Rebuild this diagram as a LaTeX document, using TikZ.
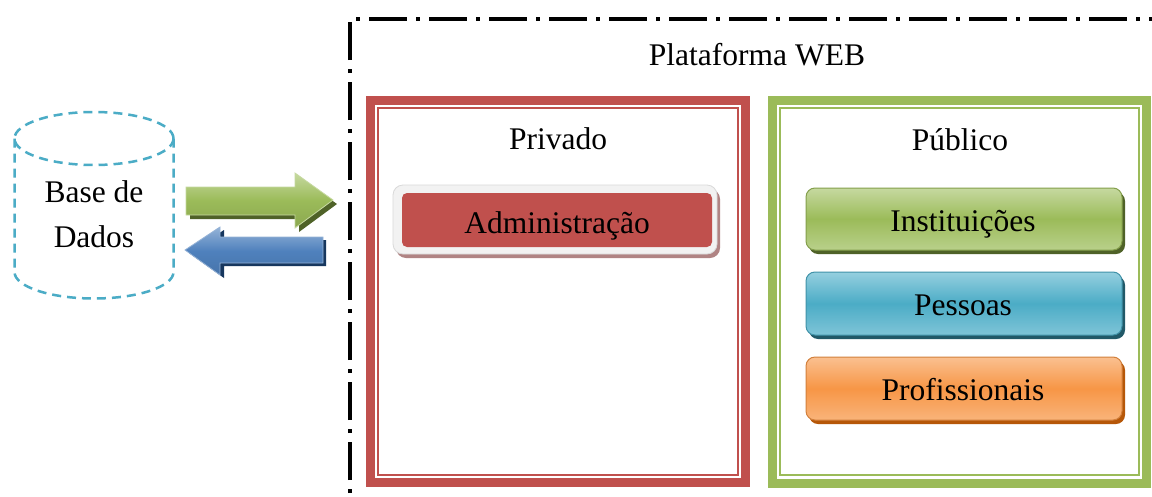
\documentclass[tikz,border=0pt]{standalone}
\usepackage{fontspec}
\setmainfont{Liberation Serif}
\usetikzlibrary{calc}
\definecolor{cred}{HTML}{C0504D}
\definecolor{cgreen}{HTML}{9BBB59}
\definecolor{cgreenl}{HTML}{C6D9A0}
\definecolor{cgreend}{HTML}{4F6228}
\definecolor{cblue}{HTML}{4BACC6}
\definecolor{cbluel}{HTML}{95CFDF}
\definecolor{cblued}{HTML}{215968}
\definecolor{corange}{HTML}{F79646}
\definecolor{corangel}{HTML}{FAC090}
\definecolor{coranged}{HTML}{B65708}
\definecolor{carrowb}{HTML}{4F81BD}
\definecolor{carrowbl}{HTML}{95B3D7}
\definecolor{carrowbd}{HTML}{17375E}
\definecolor{cadmsh}{HTML}{B08484}
\tikzset{
  lbl/.style={inner sep=0pt, anchor=base, font=\fontsize{31.5}{38}\selectfont},
  btn/.style={rounded corners=9pt, draw=#1, line width=1pt},
}
\begin{document}
\begin{tikzpicture}[x=1pt,y=-1pt]
\useasboundingbox (0,0) rectangle (1152,496);
\fill[white] (0,0) rectangle (1152,496);
\clip (0,0) rectangle (1152,496);

% outer dash-dot frame
\draw[line width=4pt, dash pattern=on 38pt off 9pt on 4pt off 9pt] (350,600) -- (350,19) -- (1300,19);
\node[lbl] (web) at (757,65) {Plataforma WEB};

% Privado frame
\draw[cred, line width=9pt] (370.5,100.5) rectangle (745.5,482.5);
\draw[cred, line width=2pt] (378,108) rectangle (738,475);
\node[lbl] (priv) at (558,149.5) {Privado};

% Publico frame
\draw[cgreen, line width=9pt] (772.5,100.5) rectangle (1146.5,483);
\draw[cgreen, line width=2pt] (780,108) rectangle (1139,475);
\node[lbl] (pub) at (960,150) {Público};

% Administracao
\fill[cadmsh, rounded corners=10pt] (396,189) rectangle (720,258);
\filldraw[fill=white!95!black, draw=white!85!black, line width=0.8pt, rounded corners=10pt] (393,185) rectangle (717,254);
\fill[cred, rounded corners=5pt] (402,193) rectangle (712,247);
\node[lbl] (adm) at (557,233) {Administração};

% Instituicoes
\fill[cgreend, rounded corners=9pt] (809,192) rectangle (1125,254);
\shade[top color=cgreenl, bottom color=cgreenl!70!cgreen, middle color=cgreen, btn=cgreen!85!black] (806,188) rectangle (1122,250);
\node[lbl] (inst) at (963,231) {Instituições};

% Pessoas
\fill[cblued, rounded corners=9pt] (809,276) rectangle (1125,339);
\shade[top color=cbluel, bottom color=cbluel!70!cblue, middle color=cblue, btn=cblue!85!black] (806,272) rectangle (1122,335);
\node[lbl] (pes) at (963,315) {Pessoas};

% Profissionais
\fill[coranged, rounded corners=9pt] (809,361) rectangle (1125,424);
\shade[top color=corangel, bottom color=corangel!70!corange, middle color=corange, btn=corange!85!black] (806,357) rectangle (1122,420);
\node[lbl] (prof) at (963,400) {Profissionais};

% Database cylinder
\begin{scope}[cblue, line width=2.5pt, dash pattern=on 9pt off 6pt]
  \draw (94,138.5) ellipse [x radius=79.5, y radius=26.5];
  \draw (14.5,138.5) -- (14.5,272) arc[start angle=180, end angle=360, x radius=79.5, y radius=-26.5] -- (173.5,138.5);
\end{scope}
\node[lbl] (db1) at (94,202) {Base de};
\node[lbl] (db2) at (94,247) {Dados};

% green arrow (to the platform)
\fill[cgreend] (190,191) -- (299,191) -- (299,177) -- (337,204) -- (299,232) -- (299,219) -- (190,219) -- cycle;
\shade[top color=cgreenl, bottom color=cgreen!90!black, middle color=cgreen, draw=cgreenl, line width=0.8pt]
  (186,187) -- (295,187) -- (295,173) -- (333,200) -- (295,228) -- (295,215) -- (186,215) -- cycle;

% blue arrow (from the platform)
\fill[carrowbd] (189,253) -- (224,230) -- (224,240) -- (326,240) -- (326,266) -- (224,266) -- (224,278) -- cycle;
\shade[top color=carrowbl, bottom color=carrowb!90!black, middle color=carrowb, draw=carrowbl, line width=0.8pt]
  (185,250) -- (220,227) -- (220,237) -- (323,237) -- (323,263) -- (220,263) -- (220,275) -- cycle;
\end{tikzpicture}
\end{document}
